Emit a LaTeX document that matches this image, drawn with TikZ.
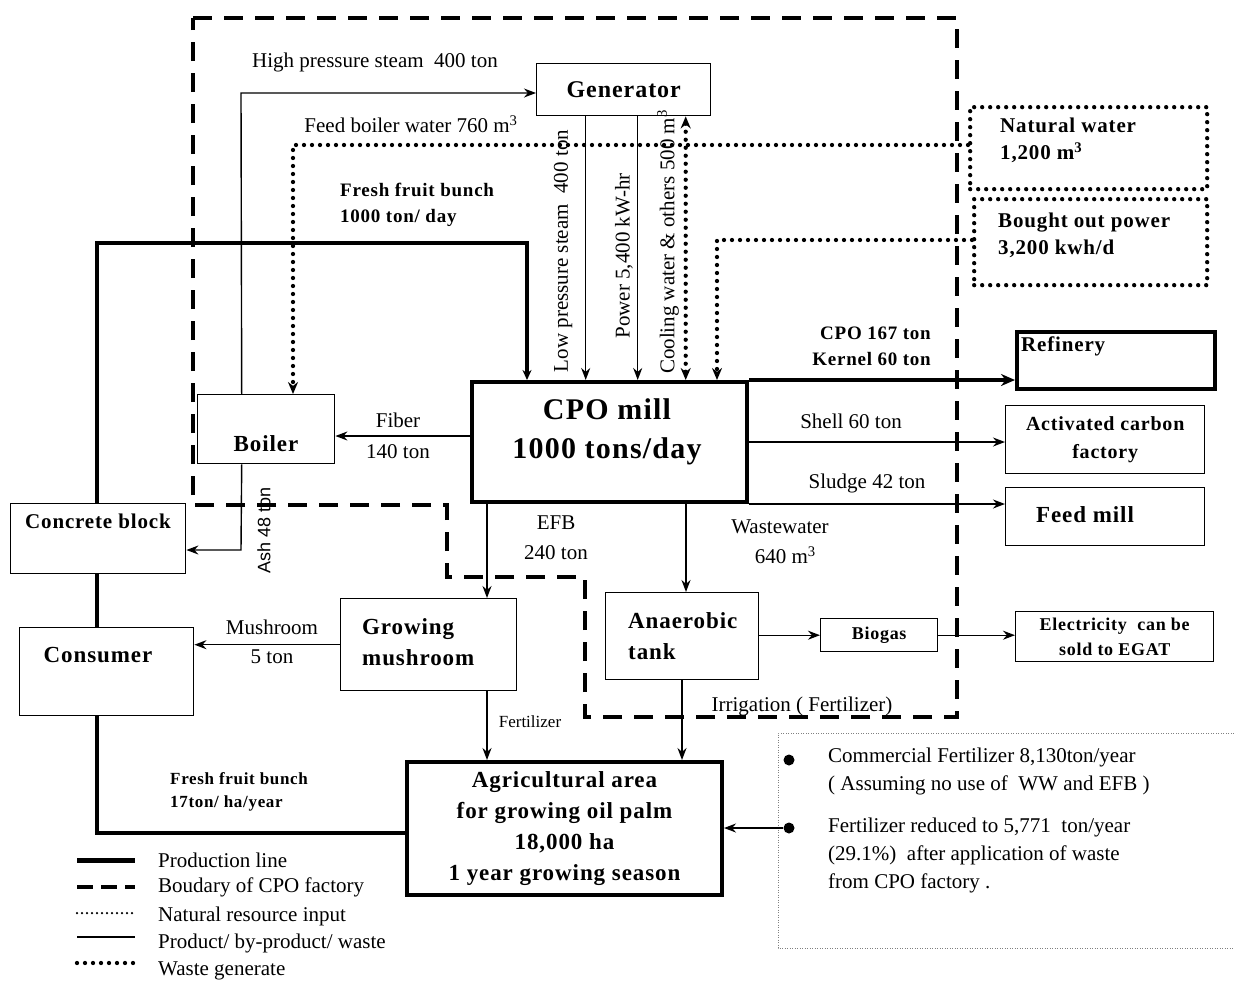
\documentclass[tikz,border=0pt]{standalone}
\usepackage{fontspec}
\setmainfont{Liberation Serif}
\newfontfamily\bsp{Liberation Serif}[LetterSpace=4]
\newfontfamily\sansf{Liberation Sans}
\usetikzlibrary{arrows.meta}
\newcommand\fz[2]{\fontsize{#1}{#2}\selectfont}
\begin{document}
\begin{tikzpicture}[x=1pt,y=-1pt,
  box/.style={draw, line width=1.4pt, inner sep=0pt, anchor=north west},
  thickbox/.style={box, line width=4pt},
  dotbox/.style={box, line width=4.3pt, dash pattern=on 0pt off 8pt, line cap=round},
  flow/.style={line width=1.4pt, -{Stealth[length=12pt,width=9pt]}},
  prod/.style={line width=4.5pt},
  bnd/.style={line width=3.5pt, dash pattern=on 19pt off 12pt},
  hdot/.style={line width=4.3pt, dash pattern=on 0pt off 8pt, line cap=round},
  lbl/.style={font=\fz{21}{27}, inner sep=0pt, align=center},
  blbl/.style={font=\bsp\bfseries\fz{19}{26}, inner sep=0pt, align=left},
  btxt/.style={inner sep=0pt, align=left}
]
\useasboundingbox (0,0) rectangle (1234,983);

% boundary of CPO factory
\draw[bnd] (193,18) -- (957,18) -- (957,717) -- (585,717) -- (585,577) -- (447,577) -- (447,505) -- (193,505) -- cycle;

% boxes
\node[box, minimum width=174pt, minimum height=52pt, font=\bsp\bfseries\fz{24}{28}] (gen) at (536,63) {Generator};
\node[dotbox, minimum width=237pt, minimum height=82pt] (nw) at (968,105) {};
\node[btxt, anchor=north west, font=\bsp\bfseries\fz{21}{27}] (nwt) at (1000,118) {Natural water\\1,200 m\textsuperscript{3}};
\node[dotbox, minimum width=233pt, minimum height=86pt] (bp) at (972,197) {};
\node[btxt, anchor=north west, font=\bsp\bfseries\fz{21}{27}] (bpt) at (998,213) {Bought out power\\3,200 kwh/d};
\node[thickbox, minimum width=198pt, minimum height=57pt] (ref) at (1015,330) {};
\node[btxt, anchor=north west, font=\bsp\bfseries\fz{21}{26}] (reft) at (1021,337) {Refinery};
\node[box, minimum width=199pt, minimum height=68pt, align=center, font=\bsp\bfseries\fz{20}{28}] (ac) at (1005,405) {Activated carbon\\factory};
\node[box, minimum width=199pt, minimum height=58pt] (fm) at (1005,487) {};
\node[btxt, font=\bsp\bfseries\fz{23}{28}] (fmt) at (1085,515) {Feed mill};
\node[thickbox, minimum width=275pt, minimum height=120pt] (cpo) at (470,380) {};
\node[btxt, align=center, font=\bsp\bfseries\fz{30}{39}] (cpot) at (607,432) {CPO mill\\1000 tons/day};
\node[box, minimum width=137pt, minimum height=69pt] (boil) at (197,394) {};
\node[btxt, font=\bsp\bfseries\fz{23}{28}] (boilt) at (266,444) {Boiler};
\node[box, minimum width=175pt, minimum height=70pt] (cb) at (10,503) {};
\node[btxt, font=\bsp\bfseries\fz{21}{26}] (cbt) at (98,521) {Concrete block};
\node[box, minimum width=174pt, minimum height=88pt] (cons) at (19,627) {};
\node[btxt, font=\bsp\bfseries\fz{23}{28}] (const) at (98,655) {Consumer};
\node[box, minimum width=176pt, minimum height=92pt] (gm) at (340,598) {};
\node[btxt, anchor=west, font=\bsp\bfseries\fz{23}{31}] (gmt) at (362,642) {Growing\\mushroom};
\node[box, minimum width=153pt, minimum height=87pt] (an) at (605,592) {};
\node[btxt, anchor=west, font=\bsp\bfseries\fz{23}{31}] (ant) at (628,636) {Anaerobic\\tank};
\node[box, minimum width=117pt, minimum height=33pt, font=\bsp\bfseries\fz{18}{22}] (bio) at (820,618) {Biogas};
\node[box, minimum width=198pt, minimum height=50pt, align=center, font=\bsp\bfseries\fz{18}{25}] (el) at (1015,611) {Electricity\ \ can be\\sold to EGAT};
\node[thickbox, minimum width=315pt, minimum height=133pt, align=center, font=\bsp\bfseries\fz{23}{31}] (agri) at (405,760) {Agricultural area\\for growing oil palm\\18,000 ha\\1 year growing season};

% production line (fresh fruit bunch)
\coordinate (c1) at (97,833);
\coordinate (c2) at (97,243);
\coordinate (c3) at (527,243);
\draw[prod] (agri.west |- c1) -- (c1) -- (cons.south -| c1);
\draw[prod] (cons.north -| c1) -- (cb.south -| c1);
\draw[prod, -{Stealth[length=10pt,width=9pt]}] (cb.north -| c1) -- (c2) -- (c3) -- (c3 |- cpo.north);
\draw[prod, -{Stealth[length=14pt,width=12pt]}] (cpo.north east) -- (ref.west |- cpo.north east);

% steam / power / water
\coordinate (hp) at (241,93);
\draw[flow] ([xshift=-24.5pt]boil.north) -- (hp) -- (hp -| gen.west);
\coordinate (fw) at (293,145);
\draw[hdot, -{Stealth[length=12pt,width=10pt]}] (nw.west |- fw) -- (fw) -- (fw |- boil.north);
\draw[flow] ([xshift=-38pt]gen.south) -- ([xshift=-38pt]gen.south |- cpo.north);
\draw[flow] ([xshift=14pt]gen.south) -- ([xshift=14pt]gen.south |- cpo.north);
\draw[hdot, {Stealth[length=12pt,width=10pt]}-{Stealth[length=12pt,width=10pt]}] ([xshift=62pt]gen.south) -- ([xshift=62pt]gen.south |- cpo.north);
\coordinate (bw) at (717,240);
\draw[hdot, -{Stealth[length=12pt,width=10pt]}] (bp.west |- bw) -- (bw) -- (bw |- cpo.north);

% products
\draw[flow] (cpo.east) -- (ac.west |- cpo.east);
\draw[flow] (cpo.south east) -- (fm.west |- cpo.south east);
\draw[flow] ([yshift=6pt]cpo.west) -- ([yshift=6pt]cpo.west -| boil.east);
\coordinate (ash) at (241,550);
\draw[flow] ([xshift=-24.5pt]boil.south) -- (ash) -- (ash -| cb.east);
\coordinate (efb) at (487,500);
\draw[flow] (efb) -- (efb |- gm.north);
\coordinate (ww) at (686,500);
\draw[flow] (ww) -- (ww |- an.north);
\draw[flow] (gm.west) -- (gm.west -| cons.east);
\draw[flow] (an.east |- bio.west) -- (bio.west);
\draw[flow] (bio.east) -- (bio.east -| el.west);
\draw[flow] (efb |- gm.south) -- (efb |- agri.north);
\coordinate (irr) at (682,679);
\draw[flow] (irr) -- (irr |- agri.north);

% labels
\node[lbl] at (375,62) {High pressure steam\ \ 400 ton};
\node[lbl] at (411,124) {Feed boiler water 760 m\textsuperscript{3}};
\node[blbl, anchor=west] at (340,205) {Fresh fruit bunch\\1000 ton/ day};
\node[lbl, rotate=90] at (563,251) {Low pressure steam\ \ 400 ton};
\node[lbl, rotate=90] at (624,256) {Power 5,400 kW-hr};
\node[lbl, rotate=90] at (668,242) {Cooling water \& others 500 m\textsuperscript{3}};
\node[blbl, align=right, anchor=east] at (931,346) {CPO 167 ton\\Kernel 60 ton};
\node[lbl] at (851,421) {Shell 60 ton};
\node[lbl] at (867,483) {Sludge 42 ton};
\node[lbl, font=\fz{21}{31}] at (398,436) {Fiber\\140 ton};
\node[lbl, rotate=90, font=\sansf\fz{18}{22}] at (264,530) {Ash 48 ton};
\node[lbl, font=\fz{21}{30}] at (556,538) {EFB\\240 ton};
\node[lbl, font=\fz{21}{30}] at (780,542) {Wastewater\\\ \ 640 m\textsuperscript{3}};
\node[lbl, font=\fz{21}{29}] at (272,642) {Mushroom\\5 ton};
\node[lbl, font=\fz{17}{20}] at (530,722) {Fertilizer};
\node[lbl] at (802,706) {Irrigation ( Fertilizer)};
\node[blbl, anchor=west, font=\bsp\bfseries\fz{17}{23}] at (170,792) {Fresh fruit bunch\\17ton/ ha/year};

% note box
\draw[line width=0.9pt, gray, dash pattern=on 1pt off 1.5pt] (1234,733) -- (778,733) -- (778,948) -- (1234,948);
\node[circle, fill, inner sep=0pt, minimum size=11pt] (b1) at (789,760) {};
\node[circle, fill, inner sep=0pt, minimum size=11pt] (b2) at (789,828) {};
\draw[flow] (b2) -- (b2 -| agri.east);
\node[lbl, anchor=north west, align=left, font=\fz{21}{28}] at (828,748) {Commercial Fertilizer 8,130ton/year\\( Assuming no use of\ \ WW and EFB )};
\node[lbl, anchor=north west, align=left, font=\fz{21}{28}] at (828,818) {Fertilizer reduced to 5,771\ \ ton/year\\(29.1\%)\ \ after application of waste\\from CPO factory .};

% legend
\draw[line width=5pt] (77,860) -- (135,860);
\draw[line width=3.5pt, dash pattern=on 16pt off 8pt] (77,887) -- (135,887);
\draw[line width=2.5pt, dash pattern=on 0pt off 5pt, line cap=round] (77,913) -- (135,913);
\draw[line width=1.4pt] (77,937) -- (135,937);
\draw[hdot] (77,963) -- (135,963);
\node[lbl, anchor=west] at (158,860) {Production line};
\node[lbl, anchor=west] at (158,887) {Boudary of CPO factory};
\node[lbl, anchor=west] at (158,916) {Natural resource input};
\node[lbl, anchor=west] at (158,943) {Product/ by-product/ waste};
\node[lbl, anchor=west] at (158,971) {Waste generate};
\end{tikzpicture}
\end{document}
